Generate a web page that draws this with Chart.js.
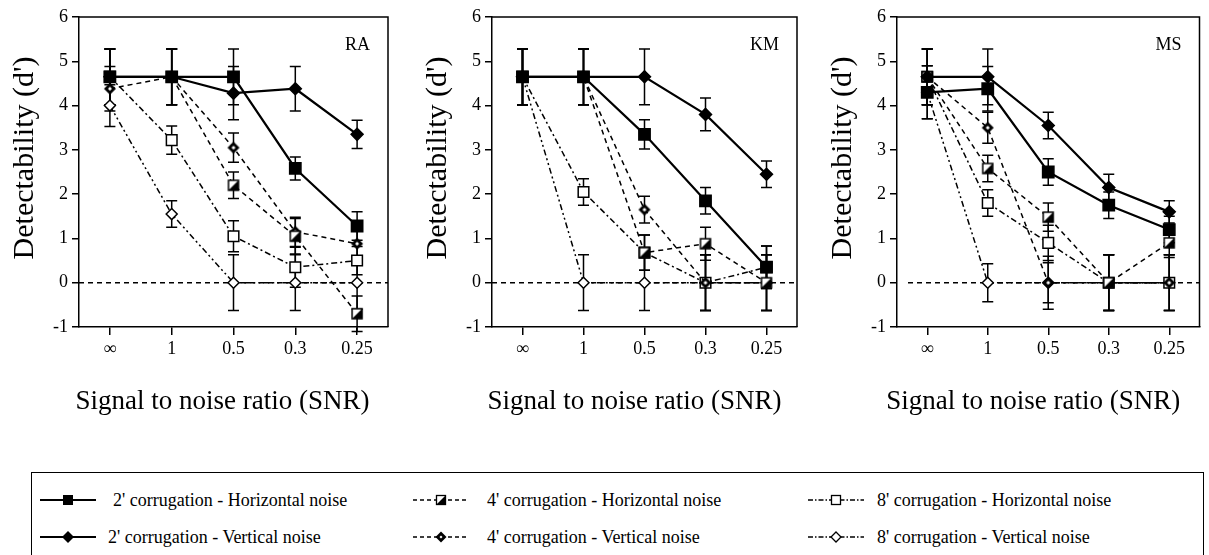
<!DOCTYPE html>
<html>
<head>
<meta charset="utf-8">
<script src="https://cdn.jsdelivr.net/npm/chart.js@4.4.1/dist/chart.umd.min.js"></script>
<style>
  body { margin: 0; width: 1209px; height: 555px; overflow: hidden; background: #fff; position: relative;
         font-family: 'Liberation Serif', 'Times New Roman', serif; color: #000; }
  canvas.panel { position: absolute; top: 0; }
  #legendBox { position: absolute; left: 31px; top: 472px; width: 1173px; height: 110px;
               border: 1.5px solid #000; box-sizing: border-box; }
  .item { position: absolute; height: 24px; line-height: 24px; font-size: 18px; white-space: nowrap; }
  .sample { position: absolute; }
</style>
</head>
<body>
<canvas id="raChart" class="panel" width="400" height="420" style="left:0px"></canvas>
<canvas id="kmChart" class="panel" width="395" height="420" style="left:413px"></canvas>
<canvas id="msChart" class="panel" width="391" height="420" style="left:818px"></canvas>
<div id="legendBox"></div>
<div id="legend"></div>

<script>
// x categories (SNR)
const snrLabels = ['∞', '1', '0.5', '0.3', '0.25'];

// Series names
const seriesNames = [
  "2' corrugation - Horizontal noise",
  "2' corrugation - Vertical noise",
  "4' corrugation - Horizontal noise",
  "4' corrugation - Vertical noise",
  "8' corrugation - Horizontal noise",
  "8' corrugation - Vertical noise"
];

// Subject RA: d' values and error bar half-lengths
const raH2 = [4.65, 4.65, 4.65, 2.58, 1.28];
const raV2 = [4.65, 4.65, 4.28, 4.38, 3.35];
const raH4 = [4.65, 4.65, 2.2, 1.05, -0.7];
const raV4 = [4.38, 4.65, 3.05, 1.15, 0.88];
const raH8 = [4.65, 3.22, 1.05, 0.35, 0.5];
const raV8 = [4.0, 1.55, 0, 0, 0];
const raH2Err = [0.63, 0.63, 0.63, 0.26, 0.32];
const raV2Err = [0.63, 0.63, 0.6, 0.5, 0.32];
const raH4Err = [0.63, 0.63, 0.3, 0.4, 0.4];
const raV4Err = [0.5, 0.63, 0.33, 0.33, 0.3];
const raH8Err = [0.63, 0.32, 0.35, 0.45, 0.32];
const raV8Err = [0.47, 0.3, 0.63, 0.63, 0.6];

// Subject KM
const kmH2 = [4.65, 4.65, 3.35, 1.85, 0.35];
const kmV2 = [4.65, 4.65, 4.65, 3.8, 2.45];
const kmH4 = [4.65, 4.65, 0.68, 0.88, 0];
const kmV4 = [4.65, 4.65, 1.65, 0, 0];
const kmH8 = [4.65, 2.05, 0.68, 0, 0.35];
const kmV8 = [4.65, 0, 0, 0, 0];
const kmH2Err = [0.63, 0.63, 0.33, 0.3, 0.48];
const kmV2Err = [0.63, 0.63, 0.63, 0.37, 0.3];
const kmH4Err = [0.63, 0.63, 0.4, 0.37, 0.63];
const kmV4Err = [0.63, 0.63, 0.3, 0.63, 0.63];
const kmH8Err = [0.63, 0.3, 0.4, 0.63, 0.48];
const kmV8Err = [0.63, 0.63, 0.63, 0.63, 0.63];

// Subject MS
const msH2 = [4.3, 4.38, 2.5, 1.75, 1.2];
const msV2 = [4.65, 4.65, 3.55, 2.15, 1.6];
const msH4 = [4.65, 2.58, 1.48, 0, 0.9];
const msV4 = [4.65, 3.5, 0, 0, 0];
const msH8 = [4.65, 1.8, 0.9, 0, 0];
const msV8 = [4.3, 0, 0, 0, 0];
const msH2Err = [0.6, 0.5, 0.3, 0.3, 0.3];
const msV2Err = [0.63, 0.63, 0.3, 0.3, 0.25];
const msH4Err = [0.63, 0.3, 0.32, 0.63, 0.33];
const msV4Err = [0.63, 0.35, 0.6, 0.63, 0.63];
const msH8Err = [0.63, 0.3, 0.4, 0.63, 0.63];
const msV8Err = [0.6, 0.43, 0.45, 0.63, 0.63];

const serif = "'Liberation Serif', 'Times New Roman', serif";

// marker images for the half filled symbols
function markerCanvas(draw) {
  const c = document.createElement('canvas');
  c.width = 14; c.height = 14;
  draw(c.getContext('2d'));
  return c;
}
const halfSquare = markerCanvas(g => {
  g.fillStyle = '#fff'; g.fillRect(2, 2, 10, 10);
  g.fillStyle = '#000';
  g.beginPath(); g.moveTo(12, 2); g.lineTo(12, 12); g.lineTo(2, 12); g.closePath(); g.fill();
  g.lineWidth = 1.5; g.strokeStyle = '#000'; g.strokeRect(2, 2, 10, 10);
});
const dotDiamond = markerCanvas(g => {
  g.fillStyle = '#000';
  g.beginPath(); g.moveTo(7, 1); g.lineTo(13, 7); g.lineTo(7, 13); g.lineTo(1, 7); g.closePath(); g.fill();
  g.fillStyle = '#fff';
  g.beginPath(); g.moveTo(7, 5); g.lineTo(9, 7); g.lineTo(7, 9); g.lineTo(5, 7); g.closePath(); g.fill();
});

const styles = [
  { dash: [], width: 2.2, point: 'rect', radius: 8, fill: '#000' },
  { dash: [], width: 2.2, point: 'rectRot', radius: 6, fill: '#000' },
  { dash: [5, 4], width: 1.5, point: halfSquare, radius: 7, fill: '#fff' },
  { dash: [5, 4], width: 1.5, point: dotDiamond, radius: 7, fill: '#000' },
  { dash: [6, 3, 2, 3], width: 1.5, point: 'rect', radius: 7.5, fill: '#fff' },
  { dash: [6, 3, 2, 3, 2, 3], width: 1.5, point: 'rectRot', radius: 5.5, fill: '#fff' }
];

function makeSets(vals, errs) {
  return vals.map((v, i) => ({
    label: seriesNames[i],
    data: v,
    errors: errs[i],
    borderColor: '#000',
    borderWidth: styles[i].width,
    borderDash: styles[i].dash,
    pointStyle: styles[i].point,
    pointRadius: styles[i].radius,
    pointBackgroundColor: styles[i].fill,
    pointBorderColor: '#000',
    pointBorderWidth: 1.5,
    fill: false,
    tension: 0
  }));
}

// frame, zero line, error bars and texts
const decor = {
  id: 'decor',
  beforeDatasetsDraw(chart, args, o) {
    const { ctx, chartArea: a, scales: { y } } = chart;
    ctx.save();
    ctx.strokeStyle = '#000';
    ctx.lineWidth = 1.5;
    ctx.beginPath();
    ctx.moveTo(a.left, a.top); ctx.lineTo(a.right, a.top); ctx.lineTo(a.right, a.bottom);
    ctx.stroke();

    const y0 = y.getPixelForValue(0);
    ctx.setLineDash([5, 4]);
    ctx.beginPath(); ctx.moveTo(a.left + o.zeroStart, y0); ctx.lineTo(a.right, y0); ctx.stroke();
    ctx.setLineDash([]);

    chart.data.datasets.forEach((ds, i) => {
      const meta = chart.getDatasetMeta(i);
      ds.errors.forEach((e, j) => {
        const v = ds.data[j];
        const px = meta.data[j].x;
        const top = y.getPixelForValue(v + e);
        const bot = y.getPixelForValue(v - e);
        ctx.beginPath();
        ctx.moveTo(px, top); ctx.lineTo(px, bot);
        ctx.moveTo(px - 5.5, top); ctx.lineTo(px + 5.5, top);
        ctx.moveTo(px - 5.5, bot); ctx.lineTo(px + 5.5, bot);
        ctx.stroke();
      });
    });

    ctx.fillStyle = '#000';
    ctx.font = '18px ' + serif;
    ctx.textAlign = 'right'; ctx.textBaseline = 'middle';
    ctx.fillText(o.subject, a.right - 18, 45);

    ctx.font = '27px ' + serif;
    ctx.textAlign = 'center';
    ctx.fillText('Signal to noise ratio (SNR)', (a.left + a.right) / 2 + o.titleShift, 402);

    ctx.font = '30px ' + serif;
    ctx.translate(25, 158);
    ctx.rotate(-Math.PI / 2);
    ctx.fillText("Detectability (d')", 0, 0);
    ctx.restore();
  }
};

function makeChart(id, subject, sets, padRight, zeroStart, titleShift) {
  const tickFont = { family: serif, size: 18 };
  return new Chart(document.getElementById(id), {
    type: 'line',
    data: { labels: snrLabels, datasets: sets },
    options: {
      responsive: false,
      animation: false,
      layout: { padding: { left: 0, right: padRight, top: 17, bottom: 0 } },
      plugins: {
        legend: { display: false },
        tooltip: { enabled: false },
        decor: { subject: subject, zeroStart: zeroStart, titleShift: titleShift }
      },
      scales: {
        x: {
          offset: true,
          grid: { drawOnChartArea: false, drawTicks: true, tickLength: 8, color: '#000', lineWidth: 1.5 },
          border: { color: '#000', width: 1.5 },
          ticks: { color: '#000', font: tickFont, padding: 3, maxRotation: 0, autoSkip: false },
          afterFit: s => { s.height = 93; }
        },
        y: {
          min: -1, max: 6,
          grid: { drawOnChartArea: false, drawTicks: true, tickLength: 7, color: '#000', lineWidth: 1.5 },
          border: { color: '#000', width: 1.5 },
          ticks: { stepSize: 1, color: '#000', font: tickFont, padding: 4 },
          afterFit: s => { s.width = 79; }
        }
      }
    },
    plugins: [decor]
  });
}

makeChart('raChart', 'RA',
  makeSets([raH2, raV2, raH4, raV4, raH8, raV8], [raH2Err, raV2Err, raH4Err, raV4Err, raH8Err, raV8Err]), 12, 0, -11);
makeChart('kmChart', 'KM',
  makeSets([kmH2, kmV2, kmH4, kmV4, kmH8, kmV8], [kmH2Err, kmV2Err, kmH4Err, kmV4Err, kmH8Err, kmV8Err]), 11, 0, -10);
makeChart('msChart', 'MS',
  makeSets([msH2, msV2, msH4, msV4, msH8, msV8], [msH2Err, msV2Err, msH4Err, msV4Err, msH8Err, msV8Err]), 3, 11, -15);

// legend: line sample + marker, then text
const legendPos = [
  { x: 40, y: 500, tx: 113 }, { x: 40, y: 537, tx: 108 },
  { x: 413, y: 500, tx: 487 }, { x: 413, y: 537, tx: 487 },
  { x: 808, y: 500, tx: 877 }, { x: 808, y: 537, tx: 877 }
];
const legendMarks = [
  '<rect x="23" y="2" width="10" height="10" fill="#000"/>',
  '<path d="M28 1 L34 7 L28 13 L22 7 Z" fill="#000"/>',
  '<rect x="23.5" y="2.5" width="9" height="9" fill="#fff" stroke="#000" stroke-width="1.3"/><path d="M32.5 2.5 L32.5 11.5 L23.5 11.5 Z" fill="#000"/>',
  '<path d="M28 1.5 L33.5 7 L28 12.5 L22.5 7 Z" fill="#000"/><path d="M28 5.5 L29.5 7 L28 8.5 L26.5 7 Z" fill="#fff"/>',
  '<rect x="23.5" y="2.5" width="9" height="9" fill="#fff" stroke="#000" stroke-width="1.3"/>',
  '<path d="M28 2 L33 7 L28 12 L23 7 Z" fill="#fff" stroke="#000" stroke-width="1.3"/>'
];
const legendDash = ['', '', '4 3', '4 3', '5 2 1.5 2', '5 2 1.5 2'];
const legendEl = document.getElementById('legend');
seriesNames.forEach((name, i) => {
  const p = legendPos[i];
  const dash = legendDash[i] ? ' stroke-dasharray="' + legendDash[i] + '"' : '';
  const w = i < 2 ? 1.8 : 1.3;
  legendEl.insertAdjacentHTML('beforeend',
    '<svg class="sample" width="56" height="14" style="left:' + p.x + 'px;top:' + (p.y - 7) + 'px">' +
    '<line x1="0" y1="7" x2="56" y2="7" stroke="#000" stroke-width="' + w + '"' + dash + '/>' +
    legendMarks[i] + '</svg>' +
    '<div class="item" style="left:' + p.tx + 'px;top:' + (p.y - 12) + 'px">' + name + '</div>');
});
</script>
</body>
</html>
